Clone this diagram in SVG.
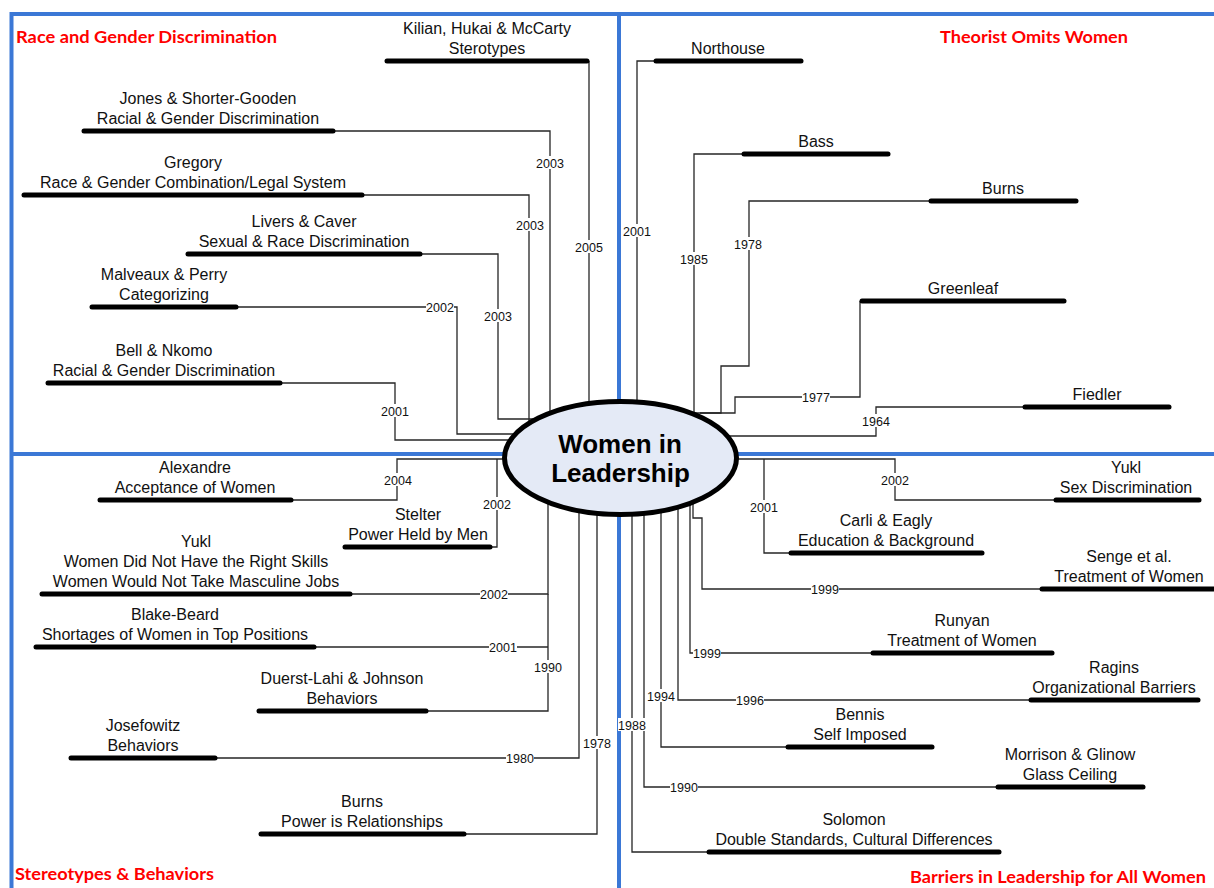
<svg xmlns="http://www.w3.org/2000/svg" width="1214" height="888" viewBox="0 0 1214 888">
<style>
.frame{stroke:#3b78d6;stroke-width:4;fill:none}
.conn{stroke:#262626;stroke-width:1.3;fill:none}
.bar{stroke:#000;stroke-width:5;stroke-linecap:round}
.t{font-family:"Liberation Sans",Arial,sans-serif;font-size:16px;fill:#111;text-anchor:middle}
.yr{font-family:"Liberation Sans",Arial,sans-serif;font-size:12.5px;fill:#111;text-anchor:middle}
.yb{fill:#fff}
.title{font-family:Lato,"Open Sans",sans-serif;font-weight:bold;font-size:17px;fill:#f00}
.center{font-family:"Liberation Sans",Arial,sans-serif;font-weight:bold;font-size:26px;fill:#000;text-anchor:middle}
</style>
<rect width="1214" height="888" fill="#fff"/>
<g id="frame">
<path class="frame" d="M11.5 888 V14 H1214"/>
<path class="frame" d="M619 14 V888"/>
<path class="frame" d="M10 454 H1214"/>
</g>
<g id="connectors">
<path class="conn" d="M589 61 V440"/>
<path class="conn" d="M335 131 H550 V440"/>
<path class="conn" d="M364 195 H529 V440"/>
<path class="conn" d="M422 254 H498 V419 H560"/>
<path class="conn" d="M238 307 H457 V434 H540"/>
<path class="conn" d="M282 383 H395 V440 H540"/>
<path class="conn" d="M654 61 H637 V440"/>
<path class="conn" d="M742 154 H694 V440"/>
<path class="conn" d="M929 201 H749 V366 H721 V413 H680"/>
<path class="conn" d="M860 301 V397 H735 V413 H700"/>
<path class="conn" d="M1023 407 H876 V436 H700"/>
<path class="conn" d="M293 500 H397 V459 H540"/>
<path class="conn" d="M492 547 H497 V459"/>
<path class="conn" d="M352 594 H548 V480"/>
<path class="conn" d="M316 647 H548"/>
<path class="conn" d="M428 711 H548 V594"/>
<path class="conn" d="M217 758 H579 V480"/>
<path class="conn" d="M466 834 H597 V480"/>
<path class="conn" d="M1054 500 H895 V459 H700"/>
<path class="conn" d="M789 553 H764 V459"/>
<path class="conn" d="M1040 589 H702 V518 H693 V480"/>
<path class="conn" d="M871 653 H690 V480"/>
<path class="conn" d="M1029 700 H678 V480"/>
<path class="conn" d="M786 747 H661 V480"/>
<path class="conn" d="M996 787 H644 V480"/>
<path class="conn" d="M707 852 H632 V480"/>
</g>
<g id="year-labels">
<rect class="yb" x="575" y="240" width="28" height="13"/><text class="yr" x="589" y="251.5">2005</text>
<rect class="yb" x="536" y="156" width="28" height="13"/><text class="yr" x="550" y="167.5">2003</text>
<rect class="yb" x="516" y="218" width="28" height="13"/><text class="yr" x="530" y="229.5">2003</text>
<rect class="yb" x="484" y="309" width="28" height="13"/><text class="yr" x="498" y="320.5">2003</text>
<rect class="yb" x="426" y="300" width="28" height="13"/><text class="yr" x="440" y="311.5">2002</text>
<rect class="yb" x="381" y="404" width="28" height="13"/><text class="yr" x="395" y="415.5">2001</text>
<rect class="yb" x="623" y="224" width="28" height="13"/><text class="yr" x="637" y="235.5">2001</text>
<rect class="yb" x="680" y="252" width="28" height="13"/><text class="yr" x="694" y="263.5">1985</text>
<rect class="yb" x="734" y="237" width="28" height="13"/><text class="yr" x="748" y="248.5">1978</text>
<rect class="yb" x="802" y="390" width="28" height="13"/><text class="yr" x="816" y="401.5">1977</text>
<rect class="yb" x="862" y="414" width="28" height="13"/><text class="yr" x="876" y="425.5">1964</text>
<rect class="yb" x="384" y="473" width="28" height="13"/><text class="yr" x="398" y="484.5">2004</text>
<rect class="yb" x="483" y="497" width="28" height="13"/><text class="yr" x="497" y="508.5">2002</text>
<rect class="yb" x="480" y="587" width="28" height="13"/><text class="yr" x="494" y="598.5">2002</text>
<rect class="yb" x="489" y="640" width="28" height="13"/><text class="yr" x="503" y="651.5">2001</text>
<rect class="yb" x="534" y="660" width="28" height="13"/><text class="yr" x="548" y="671.5">1990</text>
<rect class="yb" x="506" y="751" width="28" height="13"/><text class="yr" x="520" y="762.5">1980</text>
<rect class="yb" x="583" y="736" width="28" height="13"/><text class="yr" x="597" y="747.5">1978</text>
<rect class="yb" x="881" y="473" width="28" height="13"/><text class="yr" x="895" y="484.5">2002</text>
<rect class="yb" x="750" y="500" width="28" height="13"/><text class="yr" x="764" y="511.5">2001</text>
<rect class="yb" x="811" y="582" width="28" height="13"/><text class="yr" x="825" y="593.5">1999</text>
<rect class="yb" x="693" y="646" width="28" height="13"/><text class="yr" x="707" y="657.5">1999</text>
<rect class="yb" x="736" y="693" width="28" height="13"/><text class="yr" x="750" y="704.5">1996</text>
<rect class="yb" x="647" y="689" width="28" height="13"/><text class="yr" x="661" y="700.5">1994</text>
<rect class="yb" x="670" y="780" width="28" height="13"/><text class="yr" x="684" y="791.5">1990</text>
<rect class="yb" x="618" y="718" width="28" height="13"/><text class="yr" x="632" y="729.5">1988</text>
</g>
<g id="titles">
<text class="title" x="16" y="43" textLength="261" lengthAdjust="spacingAndGlyphs">Race and Gender Discrimination</text>
<text class="title" x="940" y="43" textLength="188" lengthAdjust="spacingAndGlyphs">Theorist Omits Women</text>
<text class="title" x="15" y="880" textLength="199" lengthAdjust="spacingAndGlyphs">Stereotypes &amp; Behaviors</text>
<text class="title" x="910" y="883" textLength="296" lengthAdjust="spacingAndGlyphs">Barriers in Leadership for All Women</text>
</g>
<g id="n-kilian"><line class="bar" x1="387" y1="61" x2="587" y2="61"/><text class="t" x="487" y="34">Kilian, Hukai &amp; McCarty</text><text class="t" x="487" y="54">Sterotypes</text></g>
<g id="n-jones"><line class="bar" x1="84" y1="131" x2="333" y2="131"/><text class="t" x="208" y="104">Jones &amp; Shorter-Gooden</text><text class="t" x="208" y="124">Racial &amp; Gender Discrimination</text></g>
<g id="n-gregory"><line class="bar" x1="24" y1="195" x2="362" y2="195"/><text class="t" x="193" y="168">Gregory</text><text class="t" x="193" y="188">Race &amp; Gender Combination/Legal System</text></g>
<g id="n-livers"><line class="bar" x1="188" y1="254" x2="420" y2="254"/><text class="t" x="304" y="227">Livers &amp; Caver</text><text class="t" x="304" y="247">Sexual &amp; Race Discrimination</text></g>
<g id="n-malveaux"><line class="bar" x1="92" y1="307" x2="236" y2="307"/><text class="t" x="164" y="280">Malveaux &amp; Perry</text><text class="t" x="164" y="300">Categorizing</text></g>
<g id="n-bell"><line class="bar" x1="48" y1="383" x2="280" y2="383"/><text class="t" x="164" y="356">Bell &amp; Nkomo</text><text class="t" x="164" y="376">Racial &amp; Gender Discrimination</text></g>
<g id="n-northouse"><line class="bar" x1="656" y1="61" x2="801" y2="61"/><text class="t" x="728" y="54">Northouse</text></g>
<g id="n-bass"><line class="bar" x1="744" y1="154" x2="888" y2="154"/><text class="t" x="816" y="147">Bass</text></g>
<g id="n-burns-theory"><line class="bar" x1="931" y1="201" x2="1076" y2="201"/><text class="t" x="1003" y="194">Burns</text></g>
<g id="n-greenleaf"><line class="bar" x1="862" y1="301" x2="1064" y2="301"/><text class="t" x="963" y="294">Greenleaf</text></g>
<g id="n-fiedler"><line class="bar" x1="1025" y1="407" x2="1169" y2="407"/><text class="t" x="1097" y="400">Fiedler</text></g>
<g id="n-alexandre"><line class="bar" x1="100" y1="500" x2="291" y2="500"/><text class="t" x="195" y="473">Alexandre</text><text class="t" x="195" y="493">Acceptance of Women</text></g>
<g id="n-stelter"><line class="bar" x1="345" y1="547" x2="490" y2="547"/><text class="t" x="418" y="520">Stelter</text><text class="t" x="418" y="540">Power Held by Men</text></g>
<g id="n-yukl-skills"><line class="bar" x1="42" y1="594" x2="350" y2="594"/><text class="t" x="196" y="547">Yukl</text><text class="t" x="196" y="567">Women Did Not Have the Right Skills</text><text class="t" x="196" y="587">Women Would Not Take Masculine Jobs</text></g>
<g id="n-blake"><line class="bar" x1="36" y1="647" x2="314" y2="647"/><text class="t" x="175" y="620">Blake-Beard</text><text class="t" x="175" y="640">Shortages of Women in Top Positions</text></g>
<g id="n-duerst"><line class="bar" x1="259" y1="711" x2="426" y2="711"/><text class="t" x="342" y="684">Duerst-Lahi &amp; Johnson</text><text class="t" x="342" y="704">Behaviors</text></g>
<g id="n-josefowitz"><line class="bar" x1="71" y1="758" x2="215" y2="758"/><text class="t" x="143" y="731">Josefowitz</text><text class="t" x="143" y="751">Behaviors</text></g>
<g id="n-burns-power"><line class="bar" x1="261" y1="834" x2="464" y2="834"/><text class="t" x="362" y="807">Burns</text><text class="t" x="362" y="827">Power is Relationships</text></g>
<g id="n-yukl-sex"><line class="bar" x1="1056" y1="500" x2="1199" y2="500"/><text class="t" x="1126" y="473">Yukl</text><text class="t" x="1126" y="493">Sex Discrimination</text></g>
<g id="n-carli"><line class="bar" x1="791" y1="553" x2="982" y2="553"/><text class="t" x="886" y="526">Carli &amp; Eagly</text><text class="t" x="886" y="546">Education &amp; Background</text></g>
<g id="n-senge"><line class="bar" x1="1042" y1="589" x2="1222" y2="589"/><text class="t" x="1129" y="562">Senge et al.</text><text class="t" x="1129" y="582">Treatment of Women</text></g>
<g id="n-runyan"><line class="bar" x1="873" y1="653" x2="1052" y2="653"/><text class="t" x="962" y="626">Runyan</text><text class="t" x="962" y="646">Treatment of Women</text></g>
<g id="n-ragins"><line class="bar" x1="1031" y1="700" x2="1198" y2="700"/><text class="t" x="1114" y="673">Ragins</text><text class="t" x="1114" y="693">Organizational Barriers</text></g>
<g id="n-bennis"><line class="bar" x1="788" y1="747" x2="932" y2="747"/><text class="t" x="860" y="720">Bennis</text><text class="t" x="860" y="740">Self Imposed</text></g>
<g id="n-morrison"><line class="bar" x1="998" y1="787" x2="1143" y2="787"/><text class="t" x="1070" y="760">Morrison &amp; Glinow</text><text class="t" x="1070" y="780">Glass Ceiling</text></g>
<g id="n-solomon"><line class="bar" x1="709" y1="852" x2="999" y2="852"/><text class="t" x="854" y="825">Solomon</text><text class="t" x="854" y="845">Double Standards, Cultural Differences</text></g>
<g id="n-center">
<ellipse cx="620.5" cy="458" rx="116" ry="56.5" fill="#e4eaf6" stroke="#000" stroke-width="5"/>
<text class="center" x="620" y="453">Women in</text>
<text class="center" x="620.5" y="482">Leadership</text>
</g>
</svg>
